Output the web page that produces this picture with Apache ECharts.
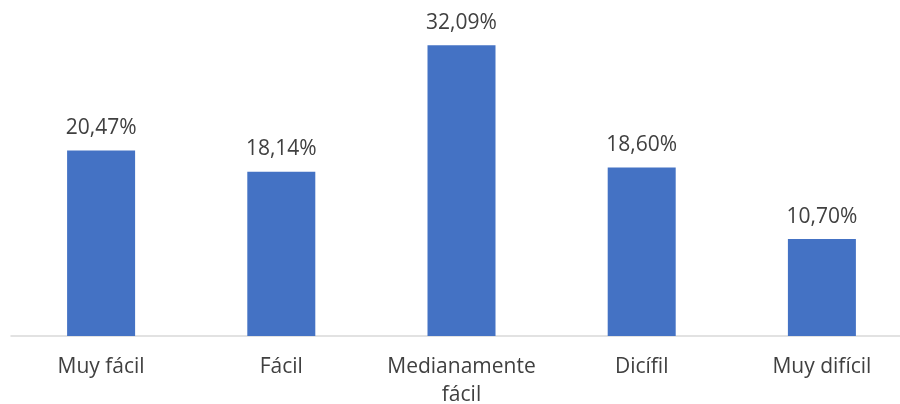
<!DOCTYPE html>
<html><head><meta charset="utf-8">
<script src="https://cdn.jsdelivr.net/npm/echarts@6/dist/echarts.min.js"></script>
<style>html,body{margin:0;padding:0;background:#fff}#c{width:900px;height:404px}</style>
</head><body><div id="c"></div>
<script>
const categories = ['Muy fácil', 'Fácil', 'Medianamente\nfácil', 'Dicífil', 'Muy difícil'];
const values = [20.47, 18.14, 32.09, 18.60, 10.70];

const chart = echarts.init(document.getElementById('c'));
chart.setOption({
  animation: false,
  grid: { left: 11, top: 19, width: 901, height: 317, containLabel: false, outerBoundsMode: 'none' },
  xAxis: {
    type: 'category', data: categories,
    axisLine: { lineStyle: { color: '#d9d9d9', width: 1.5 } },
    axisTick: { show: false },
    axisLabel: { color: '#404040', fontSize: 21, fontFamily: 'Open Sans', margin: 17, lineHeight: 28, interval: 0 }
  },
  yAxis: { type: 'value', min: 0, max: 35, show: false, splitLine: { show: false } },
  series: [{
    type: 'bar', data: values, barWidth: 68,
    itemStyle: { color: '#4472c4' },
    label: { show: true, position: 'top', distance: 12, color: '#404040', fontSize: 21, fontFamily: 'Open Sans',
      formatter: p => p.value.toFixed(2).replace('.', ',') + '%' }
  }]
});
</script></body></html>
